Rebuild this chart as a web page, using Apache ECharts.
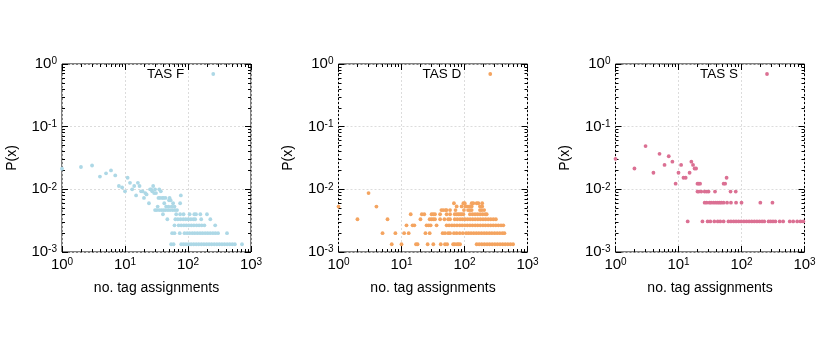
<!DOCTYPE html>
<html><head><meta charset="utf-8">
<script src="https://cdn.jsdelivr.net/npm/echarts@6/dist/echarts.min.js"></script>
<style>html,body{margin:0;padding:0;background:#fff}#c{width:830px;height:346px}</style>
</head><body><div id="c"></div>
<script>
// ---- tick definitions ----
const xTickValues = [1, 10, 100, 1000];
const xTickExps = ['0', '1', '2', '3'];
const yTickValues = [0.001, 0.01, 0.1, 1];
const yTickExps = ['-3', '-2', '-1', '0'];
const xMinorTicks = [2,3,4,5,6,7,8,9,20,30,40,50,60,70,80,90,200,300,400,500,600,700,800,900];
const yMinorTicks = [0.002,0.003,0.004,0.005,0.006,0.007,0.008,0.009,0.02,0.03,0.04,0.05,0.06,0.07,0.08,0.09,0.2,0.3,0.4,0.5,0.6,0.7,0.8,0.9];

const seriesNames = ['TAS F', 'TAS D', 'TAS S'];
const seriesColors = ['#add8e6', '#f4a460', '#db7093'];
const xAxisName = 'no. tag assignments';
const yAxisName = 'P(x)';

// ---- TAS F ----
const tasF_pts = [[1,0.0213],[2,0.0227],[3,0.024],[4,0.016],[5,0.018],[6,0.02],[7,0.0167],[8,0.0113],[9,0.0107],[10,0.0093],[11,0.0153],[12,0.0127],[13,0.01],[14,0.0113],[15,0.008],[16,0.0127],[17,0.0113],[18,0.0093],[19,0.0093],[20,0.0073],[21,0.0087],[22,0.0083],[24,0.006],[25,0.01],[26,0.01],[27,0.0093],[28,0.0113],[29,0.0087],[30,0.01],[31,0.0087],[33,0.0053],[34,0.0073],[35,0.01],[36,0.0073],[37,0.0093],[39,0.0073],[41,0.0073],[42,0.006],[44,0.0073],[45,0.0053],[49,0.0053],[50,0.0067],[51,0.0073],[53,0.0067],[55,0.0053],[58,0.006],[61,0.0053],[75,0.006],[77,0.008]];
const tasF_rows = [
  [0.00466, [30,32,35,38,41,44,48,52,57,62,67]],
  [0.004,   [40,65,75,85,106,126,134,157,200]],
  [0.00333, [47,63,69,76,84,92,101,111,122,130,162,226]],
  [0.00266, [61,71,78,86,94,103,113,124,137,150,165,182,270]],
  [0.002,   [56,61,74,88,97,106,117,128,141,155,170,187,205,225,248,272,300,416]],
  [0.00133, [54,59,78,85,93,102,112,123,135,148,163,179,197,216,237,261,287,315,346,380,418,459,505,555,720]]
];

// ---- TAS D ----
const tasD_pts = [[1,0.0053],[3,0.0087],[4,0.0053]];
const tasD_rows = [
  [0.006,   [68,96,101,130,138,156,166,191]],
  [0.00533, [75,90,103,108,120,130,176,191]],
  [0.00466, [43,46,50,52,59,72,98,114,122,130,176,188,205]],
  [0.004,   [14,21,23,30,32,34,41,52,59,70,75,80,85,90,96,122,134,147,161,177,194,213,225]],
  [0.00333, [2,6,20,28,30,32,34,41,48,55,59,70,77,85,93,102,112,123,135,148,163,179,197,216,238,261,287,315]],
  [0.00266, [12,15,16,25,27,29,36,52,57,63,69,76,84,92,101,111,122,134,148,162,178,196,215,237,260,286,314,345,380,413]],
  [0.002,   [5,8,11,13,24,28,45,49,55,59,68,75,84,94,106,116,127,140,154,169,186,205,225,248,272,300,330,363,399,430]],
  [0.00133, [7,10,17,18,26,32,42,49,53,66,70,76,80,85,156,171,188,207,228,250,275,303,333,366,403,443,487,536,590]]
];

// ---- TAS S ----
const tasS_pts = [[1,0.0307],[2,0.0215],[3,0.0491],[4,0.0184],[5,0.0368],[6,0.0245],[7,0.0337],[8,0.0276],[9,0.0123],[10,0.0184],[11,0.0245],[12,0.0153],[13,0.0153],[15,0.0184],[16,0.0276],[17,0.0245],[18,0.0215],[19,0.0215]];
const tasS_rows = [
  [0.0153,  [58]],
  [0.0123,  [20,21,22,52,55]],
  [0.0092,  [20,21,23,26,28,30,38,67,81]],
  [0.00613, [26,28,31,33,36,39,42,45,48,52,59,68,82,100,199,310]],
  [0.00307, [14,24,29,32,37,42,46,52,62,68,75,82,90,99,109,120,132,145,160,176,193,212,230,269,290,316,345,404,458,583,661,765,863,960]]
];

function buildData(pts, rows) {
  const out = pts.map(p => [p[0], p[1]]);
  rows.forEach(r => r[1].forEach(x => out.push([x, r[0]])));
  return out;
}
const panelData = [buildData(tasF_pts, tasF_rows), buildData(tasD_pts, tasD_rows), buildData(tasS_pts, tasS_rows)];

const FONT = 'Liberation Sans, Arial, Helvetica, sans-serif';
const gridLefts = [62, 338.5, 615.5];
const legendLefts = [147, 422.5, 700];
const GRID_TOP = 64, GRID_W = 189, GRID_H = 188;

function expLabel(values, exps) {
  return function (v) {
    let idx = 0, best = 1e9;
    values.forEach((t, i) => { const d = Math.abs(Math.log10(t) - Math.log10(v)); if (d < best) { best = d; idx = i; } });
    return '{b|10}{s|' + exps[idx] + '}';
  };
}
const richLabel = {
  b: { fontSize: 15, fontFamily: FONT, color: '#000' },
  s: { fontSize: 10, fontFamily: FONT, color: '#000', verticalAlign: 'top' }
};
const tickLine = { color: '#000', width: 1 };
const splitStyle = { show: true, lineStyle: { color: '#dcdcdc', width: 1, type: [2, 2] } };

const grids = [], xAxes = [], yAxes = [], series = [], legends = [];
for (let i = 0; i < 3; i++) {
  grids.push({ left: gridLefts[i], top: GRID_TOP, width: GRID_W, height: GRID_H, show: true, borderColor: '#000', borderWidth: 1, backgroundColor: 'transparent', containLabel: false });
  const xBase = { type: 'log', logBase: 10, min: 1, max: 1000, gridIndex: i };
  const yBase = { type: 'log', logBase: 10, min: 0.001, max: 1, gridIndex: i };
  const mainX = xAxes.length;
  xAxes.push(Object.assign({}, xBase, {
    position: 'bottom', axisLine: { show: false },
    axisTick: { show: true, inside: true, length: 6, lineStyle: tickLine },
    axisLabel: { show: true, margin: 5, formatter: expLabel(xTickValues, xTickExps), rich: richLabel },
    splitLine: splitStyle,
    name: xAxisName, nameLocation: 'middle', nameGap: 29,
    nameTextStyle: { fontSize: 14, fontFamily: FONT, color: '#000' }
  }));
  xAxes.push(Object.assign({}, xBase, { position: 'bottom', axisLine: { show: false }, axisLabel: { show: false }, splitLine: { show: false },
    axisTick: { show: true, inside: true, length: 3, customValues: xMinorTicks, lineStyle: tickLine } }));
  xAxes.push(Object.assign({}, xBase, { position: 'top', axisLine: { show: false }, axisLabel: { show: false }, splitLine: { show: false },
    axisTick: { show: true, inside: true, length: 6, lineStyle: tickLine } }));
  xAxes.push(Object.assign({}, xBase, { position: 'top', axisLine: { show: false }, axisLabel: { show: false }, splitLine: { show: false },
    axisTick: { show: true, inside: true, length: 3, customValues: xMinorTicks, lineStyle: tickLine } }));

  const mainY = yAxes.length;
  yAxes.push(Object.assign({}, yBase, {
    position: 'left', axisLine: { show: false },
    axisTick: { show: true, inside: true, length: 6, lineStyle: tickLine },
    axisLabel: { show: true, margin: 5, formatter: expLabel(yTickValues, yTickExps), rich: richLabel },
    splitLine: splitStyle,
    name: yAxisName, nameLocation: 'middle', nameGap: 43, nameRotate: 90,
    nameTextStyle: { fontSize: 14, fontFamily: FONT, color: '#000' }
  }));
  yAxes.push(Object.assign({}, yBase, { position: 'left', axisLine: { show: false }, axisLabel: { show: false }, splitLine: { show: false },
    axisTick: { show: true, inside: true, length: 3, customValues: yMinorTicks, lineStyle: tickLine } }));
  yAxes.push(Object.assign({}, yBase, { position: 'right', axisLine: { show: false }, axisLabel: { show: false }, splitLine: { show: false },
    axisTick: { show: true, inside: true, length: 6, lineStyle: tickLine } }));
  yAxes.push(Object.assign({}, yBase, { position: 'right', axisLine: { show: false }, axisLabel: { show: false }, splitLine: { show: false },
    axisTick: { show: true, inside: true, length: 3, customValues: yMinorTicks, lineStyle: tickLine } }));

  series.push({
    name: seriesNames[i], type: 'scatter', xAxisIndex: mainX, yAxisIndex: mainY,
    symbol: 'circle', symbolSize: 3.8, data: panelData[i], clip: true,
    itemStyle: { color: seriesColors[i], opacity: 1 }, emphasis: { disabled: true }
  });
  legends.push({
    data: [seriesNames[i]], left: legendLefts[i], top: 67, padding: 0, align: 'right',
    itemWidth: 48, itemHeight: 3.8, itemGap: 0, selectedMode: false,
    textStyle: { fontSize: 13.5, fontFamily: FONT, color: '#000' }
  });
}

const chart = echarts.init(document.getElementById('c'), null, { renderer: 'canvas' });
chart.setOption({
  animation: false,
  backgroundColor: '#fff',
  textStyle: { fontFamily: FONT },
  grid: grids, xAxis: xAxes, yAxis: yAxes, series: series, legend: legends
});
</script></body></html>
